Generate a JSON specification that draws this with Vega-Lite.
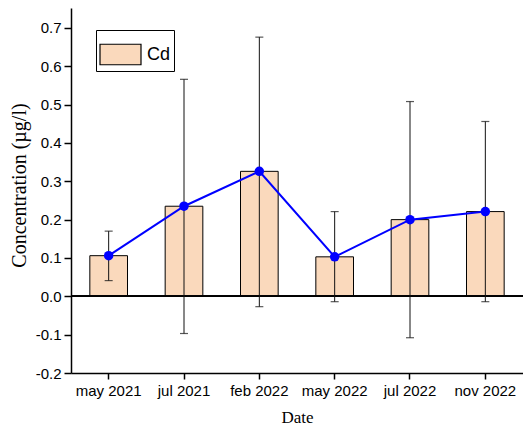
{
  "$schema": "https://vega.github.io/schema/vega-lite/v6.json",
  "width": 452,
  "height": 365,
  "autosize": {"type": "none"},
  "padding": {"left": 71, "top": 8, "right": 0, "bottom": 53},
  "background": "white",
  "config": {"view": {"stroke": null}},
  "data": {"values": [
    {"date": "may 2021", "value": 0.106, "lo": 0.041, "hi": 0.170, "series": "Cd"},
    {"date": "jul 2021", "value": 0.235, "lo": -0.097, "hi": 0.566, "series": "Cd"},
    {"date": "feb 2022", "value": 0.326, "lo": -0.027, "hi": 0.676, "series": "Cd"},
    {"date": "may 2022", "value": 0.103, "lo": -0.014, "hi": 0.221, "series": "Cd"},
    {"date": "jul 2022", "value": 0.200, "lo": -0.108, "hi": 0.508, "series": "Cd"},
    {"date": "nov 2022", "value": 0.221, "lo": -0.014, "hi": 0.456, "series": "Cd"}
  ]},
  "encoding": {
    "x": {
      "field": "date", "type": "nominal", "sort": null,
      "scale": {"paddingInner": 0.5, "paddingOuter": 0.25},
      "axis": {
        "title": "Date", "titleFont": "Liberation Serif", "titleFontSize": 17, "titleFontWeight": "normal", "titleColor": "black", "titlePadding": 11,
        "labelFont": "Liberation Sans", "labelFontSize": 15, "labelColor": "black", "labelAngle": 0, "labelPadding": 4,
        "domainColor": "black", "domainWidth": 1.5, "tickColor": "black", "tickWidth": 1.5, "tickSize": 6
      }
    }
  },
  "layer": [
    {
      "mark": {"type": "bar", "stroke": "black", "strokeWidth": 1, "fill": "#FAD9BC"},
      "encoding": {
        "y": {
          "field": "value", "type": "quantitative",
          "scale": {"domain": [-0.2, 0.752], "nice": false, "zero": false},
          "axis": {
            "title": "Concentration (µg/l)", "titleFont": "Liberation Serif", "titleFontSize": 20, "titleFontWeight": "normal", "titleColor": "black",
            "titleX": -52, "titleY": 177, "titleAngle": -90, "titleAlign": "center", "titleBaseline": "middle",
            "values": [-0.2, -0.15, -0.1, -0.05, 0, 0.05, 0.1, 0.15, 0.2, 0.25, 0.3, 0.35, 0.4, 0.45, 0.5, 0.55, 0.6, 0.65, 0.7, 0.75],
            "labelExpr": "abs(datum.value*10 - round(datum.value*10)) < 0.001 ? replace(format(datum.value, '.1f'), '\u2212', '-') : ''",
            "labelFont": "Liberation Sans", "labelFontSize": 15, "labelColor": "black", "labelPadding": 3,
            "grid": false, "domainColor": "black", "domainWidth": 1.5, "tickColor": "black", "tickWidth": 1.5,
            "tickSize": {"condition": {"test": "abs(datum.value*10 - round(datum.value*10)) < 0.001", "value": 7}, "value": 4}
          }
        },
        "fill": {
          "field": "series", "type": "nominal",
          "scale": {"range": ["#FAD9BC"]},
          "legend": {
            "title": null, "orient": "none", "legendX": 25, "legendY": 22,
            "symbolType": "M-1,-0.5H1V0.5H-1Z", "symbolSize": 1681, "symbolStrokeColor": "black", "symbolStrokeWidth": 1.2,
            "labelFont": "Liberation Sans", "labelFontSize": 18, "labelColor": "black", "labelOffset": 5,
            "strokeColor": "black", "padding": 3, "fillColor": "white"
          }
        }
      }
    },
    {
      "mark": {"type": "rule", "color": "black", "strokeWidth": 1.5},
      "encoding": {"x": {"value": 0}, "x2": {"value": 452}, "y": {"datum": 0, "type": "quantitative"}}
    },
    {
      "mark": {"type": "rule", "color": "#111", "strokeWidth": 1},
      "encoding": {"y": {"field": "lo", "type": "quantitative"}, "y2": {"field": "hi"}}
    },
    {
      "mark": {"type": "tick", "color": "#111", "thickness": 1.2, "size": 8},
      "encoding": {"y": {"field": "lo", "type": "quantitative"}}
    },
    {
      "mark": {"type": "tick", "color": "#111", "thickness": 1.2, "size": 8},
      "encoding": {"y": {"field": "hi", "type": "quantitative"}}
    },
    {
      "mark": {"type": "line", "color": "#0000FF", "strokeWidth": 2, "point": {"filled": true, "color": "#0000FF", "size": 90, "opacity": 1}},
      "encoding": {"y": {"field": "value", "type": "quantitative"}}
    }
  ]
}
